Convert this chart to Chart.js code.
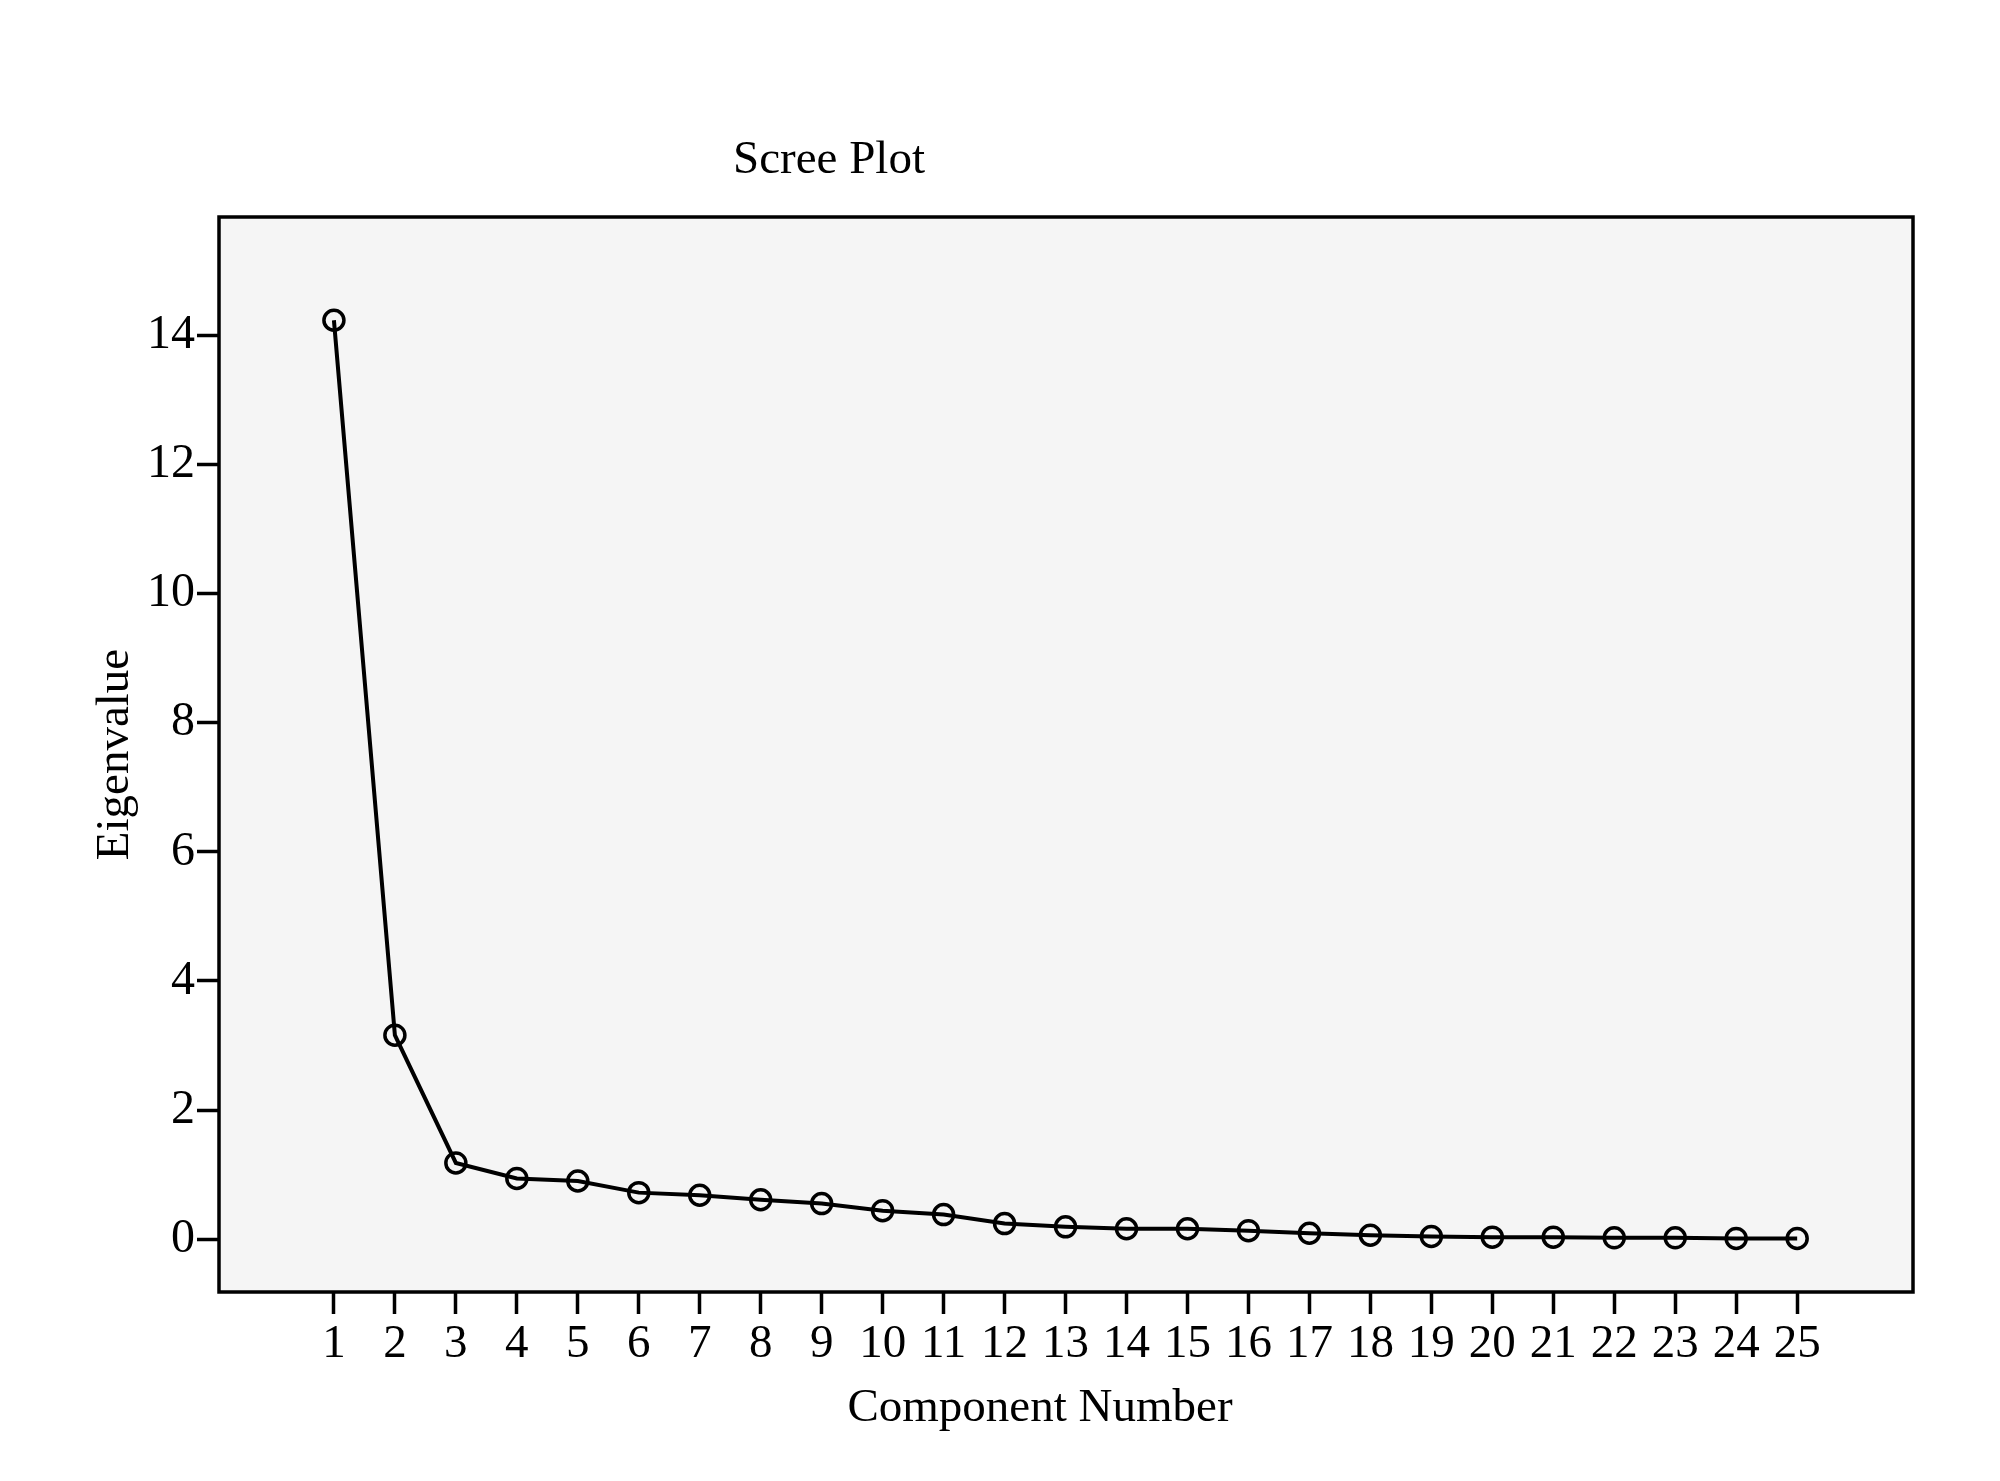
<!DOCTYPE html>
<html>
<head>
<meta charset="utf-8">
<script src="https://cdn.jsdelivr.net/npm/chart.js@4"></script>
<style>
  body { margin: 0; background: #fff; }
  canvas { display: block; }
</style>
</head>
<body>
<canvas id="scree" width="2000" height="1481"></canvas>
<script>
const components = [1, 2, 3, 4, 5, 6, 7, 8, 9, 10, 11, 12, 13, 14, 15, 16, 17, 18, 19, 20, 21, 22, 23, 24, 25];
const eigenvalues = [14.24, 3.16, 1.18, 0.94, 0.90, 0.72, 0.68, 0.61, 0.55, 0.44, 0.38, 0.24, 0.19,
                     0.16, 0.16, 0.13, 0.09, 0.06, 0.04, 0.03, 0.03, 0.02, 0.02, 0.01, 0.01];
const yTicks = [0, 2, 4, 6, 8, 10, 12, 14];

const serif = 'Liberation Serif';

// grey plot panel + black frame, titles placed like the original
const panel = {
    id: 'panel',
    beforeDatasetsDraw(chart) {
        const { ctx, chartArea: a } = chart;
        ctx.save();
        ctx.fillStyle = '#f5f5f5';
        ctx.fillRect(a.left, a.top, a.right - a.left, a.bottom - a.top);
        ctx.restore();
    },
    afterDraw(chart) {
        const { ctx, chartArea: a } = chart;
        ctx.save();
        ctx.strokeStyle = '#000';
        ctx.lineWidth = 3.5;
        ctx.strokeRect(a.left, a.top, a.right - a.left, a.bottom - a.top);
        ctx.fillStyle = '#000';
        ctx.font = '47px "' + serif + '"';
        ctx.textAlign = 'center';
        ctx.textBaseline = 'middle';
        ctx.fillText('Scree Plot', 829, 161);
        ctx.fillText('Component Number', 1040, 1409);
        ctx.restore();
    }
};

new Chart(document.getElementById('scree').getContext('2d'), {
    type: 'line',
    data: {
        datasets: [{
            data: components.map((c, i) => ({ x: c, y: eigenvalues[i] })),
            borderColor: '#000',
            borderWidth: 4,
            tension: 0,
            pointRadius: 10,
            pointBorderWidth: 3.5,
            pointBorderColor: '#000',
            pointBackgroundColor: 'rgba(0,0,0,0)',
            fill: false
        }]
    },
    options: {
        responsive: false,
        animation: false,
        layout: { padding: { top: 217, right: 87, bottom: 0, left: 0 } },
        plugins: {
            legend: { display: false },
            tooltip: { enabled: false }
        },
        scales: {
            x: {
                type: 'linear',
                min: -0.885,
                max: 26.9,
                afterBuildTicks: (scale) => { scale.ticks = components.map(v => ({ value: v })); },
                afterFit: (scale) => { scale.height = 189; },
                grid: { drawOnChartArea: false, tickLength: 22, tickWidth: 3.5, tickColor: '#000' },
                border: { display: false },
                ticks: {
                    color: '#000',
                    font: { family: serif, size: 47 },
                    padding: 2,
                    maxRotation: 0,
                    autoSkip: false
                }
            },
            y: {
                min: -0.82,
                max: 15.84,
                afterBuildTicks: (scale) => { scale.ticks = yTicks.map(v => ({ value: v })); },
                afterFit: (scale) => { scale.width = 219; },
                grid: { drawOnChartArea: false, tickLength: 22, tickWidth: 3.5, tickColor: '#000' },
                border: { display: false },
                ticks: {
                    color: '#000',
                    font: { family: serif, size: 48 },
                    padding: 2
                },
                title: {
                    display: true,
                    text: 'Eigenvalue',
                    color: '#000',
                    font: { family: serif, size: 47 },
                    padding: { top: 87, bottom: 0 }
                }
            }
        }
    },
    plugins: [panel]
});
</script>
</body>
</html>
